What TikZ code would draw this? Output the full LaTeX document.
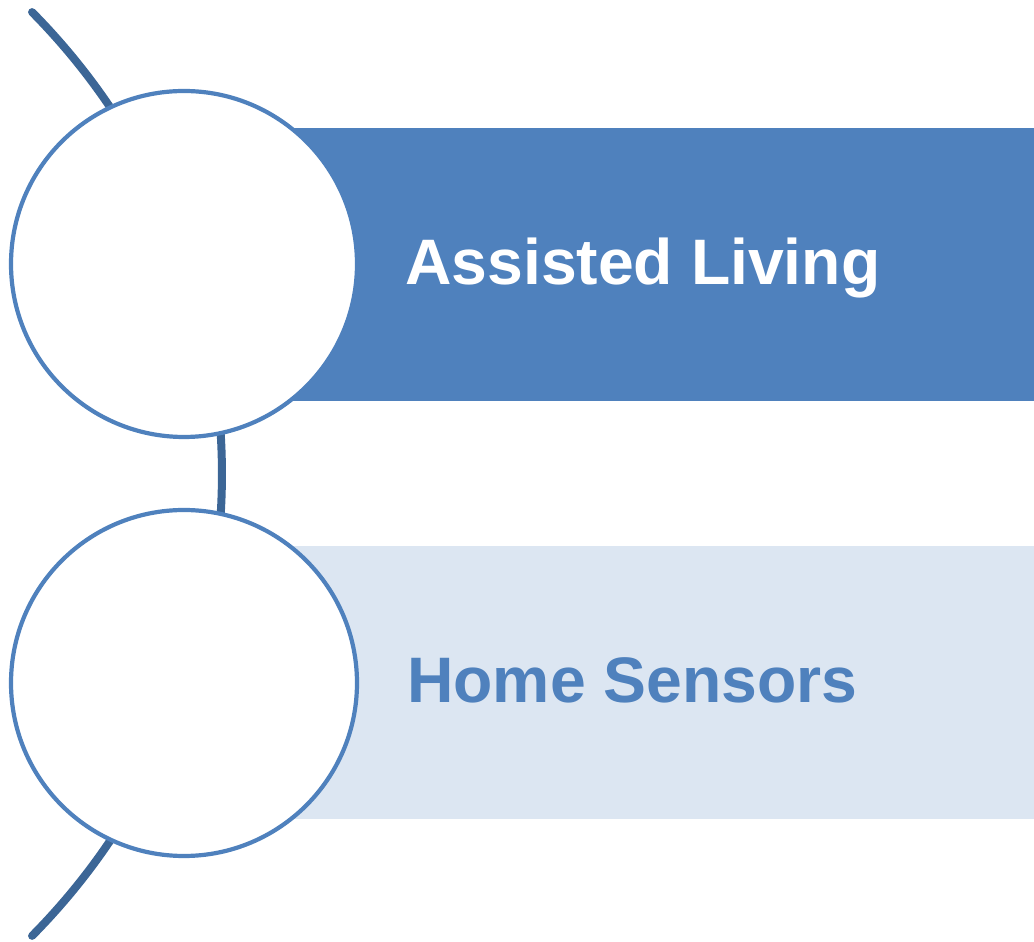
\documentclass[tikz,border=0pt]{standalone}
\usepackage{fontspec}
\setmainfont{Liberation Sans}
\definecolor{accent}{HTML}{4F81BD}
\definecolor{accentlight}{HTML}{DCE6F2}
\definecolor{arcdark}{HTML}{3C6696}
\tikzset{
  bigarc/.style={draw=arcdark, line width=8pt, line cap=round},
  bubble/.style={circle, draw=accent, line width=4.2pt, fill=white, minimum size=346pt, inner sep=0pt},
  label/.style={font=\fontsize{64.3}{70}\selectfont\bfseries, inner sep=0pt, anchor=base west}
}
\begin{document}
\begin{tikzpicture}[x=1pt,y=1pt]
\useasboundingbox (0,0) rectangle (1034,942);
% big arc
\coordinate (arcc) at (-434.7,468);
\draw[bigarc] (arcc) ++(-44.7:656.7) arc[start angle=-44.7, end angle=44.7, radius=656.7];
% bars
\fill[accent] (290,541) rectangle (1034,814);
\fill[accentlight] (290,123) rectangle (1034,396);
% circles
\node[bubble] (c1) at (184,678) {};
\node[bubble] (c2) at (184,259) {};
% labels
\node[label, text=white] (t1) at (405,657) {Assisted Living};
\node[label, text=accent] (t2) at (407,239) {Home Sensors};
\end{tikzpicture}
\end{document}
